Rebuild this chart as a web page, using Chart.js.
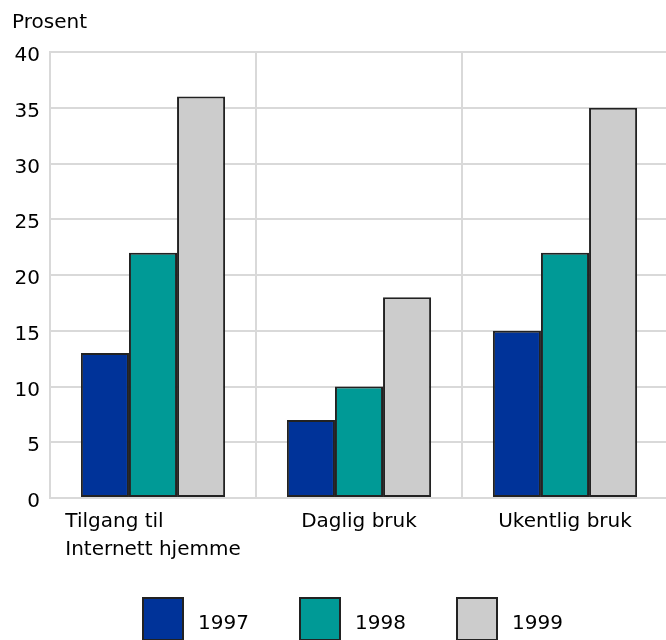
<!DOCTYPE html>
<html>
<head>
<meta charset="utf-8">
<script src="https://cdn.jsdelivr.net/npm/chart.js@4/dist/chart.umd.min.js"></script>
<style>
  html, body { margin: 0; padding: 0; background: #fff; overflow: hidden; }
  #wrap { width: 670px; height: 640px; }
</style>
</head>
<body>
<div id="wrap"><canvas id="chart"></canvas></div>
<script>
// Data
const CATEGORIES = [['Tilgang til', 'Internett hjemme'], ['Daglig bruk'], ['Ukentlig bruk']];
const SERIES_LABELS = ['1997', '1998', '1999'];
const VALUES_1997 = [13, 7, 15];
const VALUES_1998 = [22, 10, 22];
const VALUES_1999 = [36, 18, 35];
const Y_TITLE = 'Prosent';

const COLORS = ['#003399', '#009a96', '#cccccc'];
const FONT = '"DejaVu Sans", Verdana, sans-serif';
const GRID = '#d9d9d9';

// Axis title + category labels + legend drawn by hand to match the layout
const decorations = {
  id: 'decorations',
  afterDraw(chart) {
    const ctx = chart.ctx;
    const x = chart.scales.x;
    ctx.save();
    ctx.fillStyle = '#000';
    ctx.font = '20px ' + FONT;
    ctx.textBaseline = 'alphabetic';

    // y title
    ctx.textAlign = 'left';
    ctx.fillText(Y_TITLE, 12, 28);

    // category labels (multi-line, left aligned block centred on tick)
    chart.data.labels.forEach((lines, i) => {
      const cx = x.getPixelForValue(i);
      const w = Math.max(...lines.map(l => ctx.measureText(l).width));
      const left = cx - w / 2;
      lines.forEach((line, j) => ctx.fillText(line, left, 527 + j * 28));
    });

    // legend
    let lx = 143;
    chart.data.datasets.forEach(ds => {
      ctx.fillStyle = ds.backgroundColor;
      ctx.fillRect(lx, 598, 40, 42);
      ctx.strokeStyle = '#222';
      ctx.lineWidth = 2;
      ctx.strokeRect(lx, 598, 40, 42);
      ctx.fillStyle = '#000';
      ctx.fillText(ds.label, lx + 55, 629);
      lx += 157;
    });
    ctx.restore();
  },
};

new Chart(document.getElementById('chart'), {
  type: 'bar',
  data: {
    labels: CATEGORIES,
    datasets: [
      { label: SERIES_LABELS[0], data: VALUES_1997, backgroundColor: COLORS[0] },
      { label: SERIES_LABELS[1], data: VALUES_1998, backgroundColor: COLORS[1] },
      { label: SERIES_LABELS[2], data: VALUES_1999, backgroundColor: COLORS[2] },
    ],
  },
  options: {
    responsive: true,
    maintainAspectRatio: false,
    animation: false,
    devicePixelRatio: 1,
    layout: { padding: { top: 52, right: 2, left: 0, bottom: 0 } },
    datasets: {
      bar: {
        categoryPercentage: 0.7,
        barPercentage: 1.0,
        borderColor: '#222',
        borderWidth: 2,
        borderSkipped: false,
      },
    },
    plugins: {
      legend: { display: false },
      tooltip: { enabled: false },
    },
    scales: {
      x: {
        ticks: { display: false },
        grid: { color: GRID, lineWidth: 2, drawTicks: false, offset: true },
        border: { color: GRID, width: 2 },
        afterFit: s => { s.height = 142; },
      },
      y: {
        min: 0,
        max: 40,
        ticks: {
          stepSize: 5,
          color: '#000',
          font: { family: FONT, size: 20 },
          padding: 10,
          labelOffset: 4,
        },
        grid: { color: GRID, lineWidth: 2, drawTicks: false },
        border: { color: GRID, width: 2 },
        afterFit: s => { s.width = 50; },
      },
    },
  },
  plugins: [decorations],
});
</script>
</body>
</html>
